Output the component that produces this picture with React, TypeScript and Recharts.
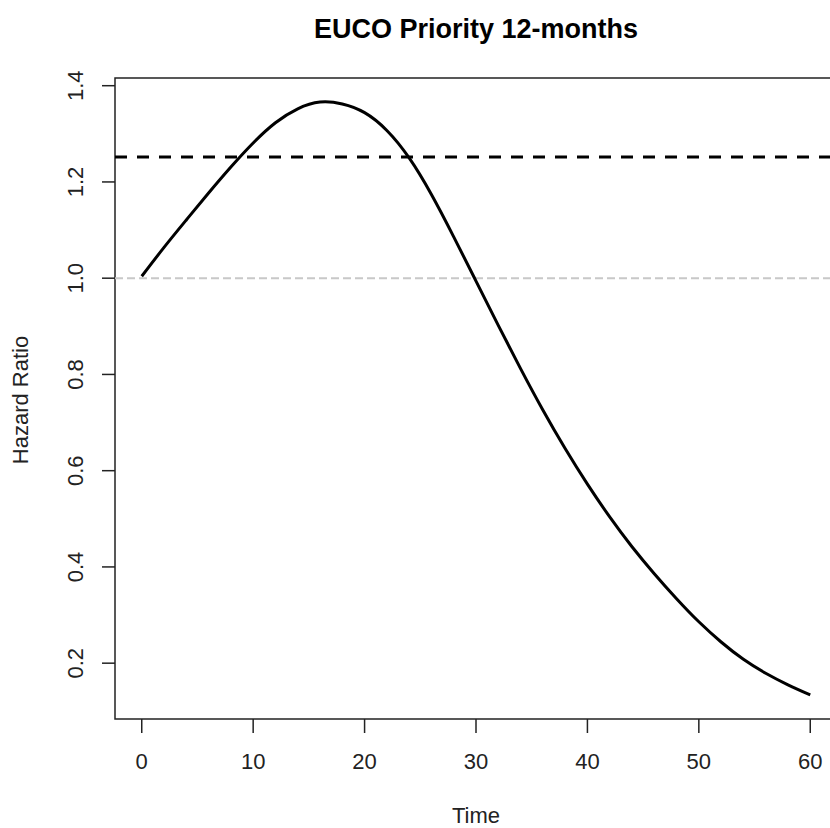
import { LineChart, Line, XAxis, YAxis, ReferenceLine, ReferenceArea } from 'recharts'

// hazard ratio curve
const times = [0, 2, 4, 6, 8, 10, 12, 14, 16, 18, 20, 22, 24, 26, 28, 30, 32, 34, 36, 38, 40, 42, 44, 46, 48, 50, 52, 54, 56, 58, 60]
const hazard = [1.004, 1.064, 1.121, 1.177, 1.231, 1.281, 1.323, 1.352, 1.366, 1.362, 1.344, 1.307, 1.25, 1.174, 1.086, 0.994, 0.902, 0.812, 0.726, 0.646, 0.572, 0.504, 0.442, 0.386, 0.334, 0.286, 0.244, 0.208, 0.179, 0.155, 0.134]

const xTicks = [0, 10, 20, 30, 40, 50, 60]
const yTicks = [0.2, 0.4, 0.6, 0.8, 1.0, 1.2, 1.4]
const xDomain = [-2.4, 62.4]
const yDomain = [0.084, 1.416]
const refLevel = 1.252
const nullLevel = 1.0

const FONT = '"Liberation Sans", Arial, sans-serif'

const data = times.map((t, i) => ({ time: t, hr: hazard[i] }))

function RotatedTick({ x, y, payload }: any) {
  return (
    <text
      x={0}
      y={0}
      transform={`translate(${x},${y}) rotate(-90)`}
      textAnchor="middle"
      fontSize={22}
      fontFamily={FONT}
      fill="#222"
    >
      {Number(payload.value).toFixed(1)}
    </text>
  )
}

export default function App() {
  return (
    <div style={{ position: 'absolute', left: 0, top: 0, width: 830, height: 828, overflow: 'hidden', background: '#fff' }}>
      <LineChart width={840} height={828} data={data} margin={{ top: 78, right: 3, bottom: 0, left: 0 }}>
        <XAxis
          dataKey="time"
          type="number"
          domain={xDomain}
          ticks={xTicks}
          height={109}
          axisLine={false}
          tickSize={14}
          tickMargin={20}
          tickLine={{ stroke: '#222', strokeWidth: 1.5 }}
          tick={{ fontSize: 22, fontFamily: FONT, fill: '#222' }}
          allowDataOverflow
        />
        <YAxis
          type="number"
          domain={yDomain}
          ticks={yTicks}
          width={115}
          axisLine={false}
          tickSize={13}
          tickMargin={19}
          tickLine={{ stroke: '#222', strokeWidth: 1.5 }}
          tick={<RotatedTick />}
          allowDataOverflow
        />
        <ReferenceArea
          x1={xDomain[0]}
          x2={xDomain[1]}
          y1={yDomain[0]}
          y2={yDomain[1]}
          fill="none"
          fillOpacity={0}
          stroke="#222"
          strokeWidth={1.5}
        />
        <ReferenceLine y={nullLevel} stroke="#c8c8c8" strokeWidth={2} strokeDasharray="8 4" />
        <ReferenceLine y={refLevel} stroke="#000" strokeWidth={3} strokeDasharray="12 10" />
        <Line
          dataKey="hr"
          type="natural"
          stroke="#000"
          strokeWidth={3}
          dot={false}
          activeDot={false}
          isAnimationActive={false}
        />
      </LineChart>
      <svg width={830} height={828} style={{ position: 'absolute', left: 0, top: 0, pointerEvents: 'none' }}>
        <text x={476} y={38} textAnchor="middle" fontSize={27} fontWeight="bold" fontFamily={FONT} fill="#000">
          EUCO Priority 12-months
        </text>
        <text x={476} y={823} textAnchor="middle" fontSize={22} fontFamily={FONT} fill="#222">
          Time
        </text>
        <text x={0} y={0} transform="translate(28,400) rotate(-90)" textAnchor="middle" fontSize={22} fontFamily={FONT} fill="#222">
          Hazard Ratio
        </text>
      </svg>
    </div>
  )
}
